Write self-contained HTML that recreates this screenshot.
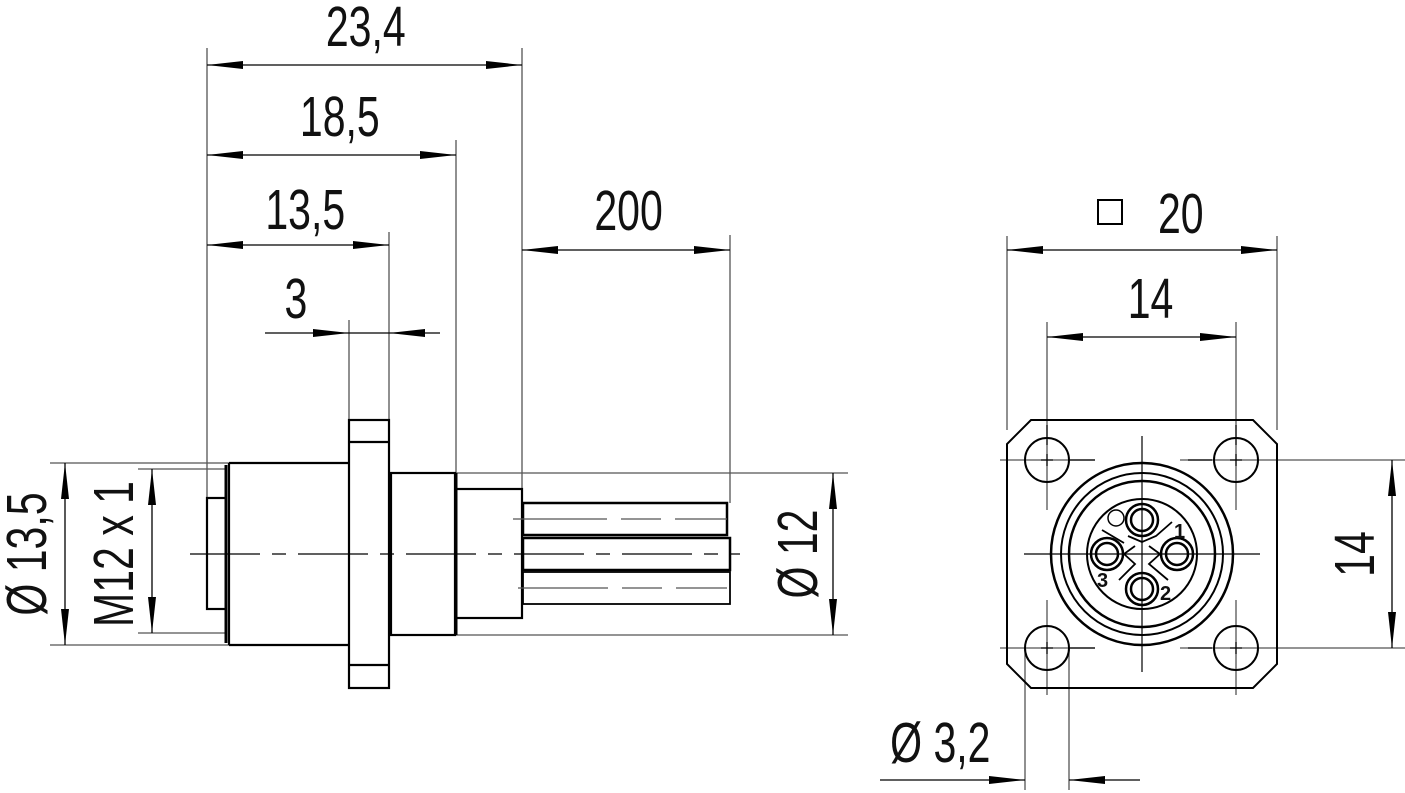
<!DOCTYPE html>
<html><head><meta charset="utf-8"><style>
html,body{margin:0;padding:0;background:#fff;}
svg{display:block;}
text{font-family:"Liberation Sans",sans-serif;font-size:57px;fill:#111;}
</style></head><body>
<svg width="1405" height="793" viewBox="0 0 1405 793" xmlns="http://www.w3.org/2000/svg">
<defs>
<marker id="a" viewBox="0 0 36 10" refX="36" refY="5" markerWidth="36" markerHeight="10" markerUnits="userSpaceOnUse" orient="auto-start-reverse">
<path d="M0,1 L36,5 L0,9 Z" fill="#000"/></marker>
</defs>
<g stroke="#555" stroke-width="1.3" fill="none">
<line x1="207" y1="48" x2="207" y2="498"/>
<line x1="522" y1="48" x2="522" y2="489"/>
<line x1="456" y1="140" x2="456" y2="473"/>
<line x1="389" y1="232" x2="389" y2="420"/>
<line x1="349" y1="320" x2="349" y2="420"/>
<line x1="730" y1="235" x2="730" y2="503"/>
<line x1="50" y1="463" x2="229" y2="463"/>
<line x1="50" y1="645" x2="229" y2="645"/>
<line x1="138" y1="469" x2="226" y2="469"/>
<line x1="138" y1="633" x2="226" y2="633"/>
<line x1="455" y1="473" x2="848" y2="473"/>
<line x1="455" y1="635" x2="848" y2="635"/>
<line x1="1007" y1="236" x2="1007" y2="430"/>
<line x1="1277" y1="236" x2="1277" y2="430"/>
<line x1="1047" y1="322" x2="1047" y2="510"/>
<line x1="1236" y1="322" x2="1236" y2="510"/>
<line x1="1180" y1="460" x2="1405" y2="460"/>
<line x1="1180" y1="648" x2="1405" y2="648"/>
<line x1="1025" y1="648" x2="1025" y2="790"/>
<line x1="1069" y1="648" x2="1069" y2="790"/>
<line x1="1000" y1="460" x2="1095" y2="460"/>
<line x1="1000" y1="648" x2="1095" y2="648"/>
<line x1="1047" y1="600" x2="1047" y2="695"/>
<line x1="1236" y1="600" x2="1236" y2="695"/>
</g>
<g stroke="#000" stroke-width="1.3" fill="none">
<line x1="207" y1="65" x2="522" y2="65" marker-start="url(#a)" marker-end="url(#a)"/>
<line x1="207" y1="155" x2="456" y2="155" marker-start="url(#a)" marker-end="url(#a)"/>
<line x1="207" y1="245" x2="389" y2="245" marker-start="url(#a)" marker-end="url(#a)"/>
<line x1="265" y1="333" x2="349" y2="333" marker-end="url(#a)"/>
<line x1="440" y1="333" x2="389" y2="333" marker-end="url(#a)"/>
<line x1="349" y1="333" x2="389" y2="333"/>
<line x1="522" y1="250" x2="730" y2="250" marker-start="url(#a)" marker-end="url(#a)"/>
<line x1="65" y1="463" x2="65" y2="645" marker-start="url(#a)" marker-end="url(#a)"/>
<line x1="152" y1="469" x2="152" y2="633" marker-start="url(#a)" marker-end="url(#a)"/>
<line x1="833" y1="473" x2="833" y2="635" marker-start="url(#a)" marker-end="url(#a)"/>
<line x1="1007" y1="250" x2="1277" y2="250" marker-start="url(#a)" marker-end="url(#a)"/>
<line x1="1047" y1="337" x2="1236" y2="337" marker-start="url(#a)" marker-end="url(#a)"/>
<line x1="1392" y1="460" x2="1392" y2="648" marker-start="url(#a)" marker-end="url(#a)"/>
<line x1="880" y1="780" x2="1025" y2="780" marker-end="url(#a)"/>
<line x1="1140" y1="780" x2="1069" y2="780" marker-end="url(#a)"/>
</g>
<g stroke="#000" stroke-width="2.2" fill="none">
<rect x="207" y="498" width="19" height="111"/>
<path d="M229,463 H349 M229,645 H349 M229,463 V645"/>
<line x1="226" y1="465" x2="226" y2="643" stroke-width="3"/>
<rect x="349" y="420" width="40" height="268"/>
<line x1="349" y1="442" x2="389" y2="442"/>
<line x1="349" y1="665" x2="389" y2="665"/>
<rect x="391" y="473" width="64" height="162"/>
<rect x="456" y="489" width="66" height="129"/>
<line x1="456" y1="473" x2="456" y2="635" stroke-width="3"/>
<rect x="523" y="503" width="204" height="32" stroke-width="2.5"/>
<rect x="523" y="538" width="207" height="32" stroke-width="2.5"/>
<rect x="523" y="572" width="207" height="32" stroke-width="1.8"/>
</g>
<g stroke="#000" stroke-width="1.3" fill="none">
<line x1="190" y1="554" x2="740" y2="554" stroke-dasharray="70,12,14,12"/>
<line x1="513" y1="519" x2="727" y2="519" stroke-dasharray="94,14,40,14" stroke="#555"/>
<line x1="518" y1="588" x2="727" y2="588" stroke-dasharray="90,14,40,14" stroke="#555"/>
</g>
<g stroke="#000" stroke-width="2" fill="none">
<path d="M1031,420 H1253 L1277,444 V664 L1253,688 H1031 L1007,664 V444 Z"/>
<circle cx="1047" cy="460" r="22"/><circle cx="1236" cy="460" r="22"/>
<circle cx="1047" cy="648" r="22"/><circle cx="1236" cy="648" r="22"/>
<circle cx="1142" cy="554" r="91" stroke-width="2.5"/>
<circle cx="1142" cy="554" r="81"/>
<circle cx="1142" cy="554" r="73" stroke-width="2.5"/>
<circle cx="1142" cy="554" r="55"/>
<g stroke-width="2.5">
<circle cx="1142" cy="520" r="16"/><circle cx="1142" cy="520" r="11"/>
<circle cx="1107" cy="554" r="16"/><circle cx="1107" cy="554" r="11"/>
<circle cx="1177" cy="554" r="16"/><circle cx="1177" cy="554" r="11"/>
<circle cx="1142" cy="589" r="16"/><circle cx="1142" cy="589" r="11"/>
</g>
<path d="M1128,536 L1142,542 L1156,536 L1172,522 M1124,543 L1102,530 M1124,554 L1135,546 M1160,554 L1149,546 M1124,554 L1135,564 L1119,580 M1160,554 L1149,564 L1168,580" stroke-width="1.8"/>
<circle cx="1116" cy="518" r="8" stroke-width="1.5"/>
</g>
<g stroke="#000" stroke-width="1.2">
<line x1="1142" y1="436" x2="1142" y2="672"/>
<line x1="1024" y1="554" x2="1260" y2="554"/>
<line x1="1041" y1="460" x2="1053" y2="460"/><line x1="1047" y1="454" x2="1047" y2="466"/>
<line x1="1230" y1="460" x2="1242" y2="460"/><line x1="1236" y1="454" x2="1236" y2="466"/>
<line x1="1041" y1="648" x2="1053" y2="648"/><line x1="1047" y1="642" x2="1047" y2="654"/>
<line x1="1230" y1="648" x2="1242" y2="648"/><line x1="1236" y1="642" x2="1236" y2="654"/>
<line x1="1047" y1="425" x2="1047" y2="445"/><line x1="1236" y1="425" x2="1236" y2="445"/>
<line x1="1070" y1="460" x2="1095" y2="460"/><line x1="1188" y1="460" x2="1212" y2="460"/>
<line x1="1070" y1="648" x2="1095" y2="648"/><line x1="1188" y1="648" x2="1212" y2="648"/>
</g>
<text x="1097" y="587" style="font-size:20px;font-weight:bold">3</text>
<text x="1160" y="600" style="font-size:20px;font-weight:bold">2</text>
<text x="1174" y="538" style="font-size:20px;font-weight:bold">1</text>
<rect x="1098" y="200" width="24" height="24" fill="none" stroke="#000" stroke-width="2"/>
<g transform="scale(0.72,1)">
<text x="508" y="46" text-anchor="middle">23,4</text>
<text x="472" y="136" text-anchor="middle">18,5</text>
<text x="424" y="229" text-anchor="middle">13,5</text>
<text x="411" y="318" text-anchor="middle">3</text>
<text x="873" y="230" text-anchor="middle">200</text>
<text x="1640" y="233" text-anchor="middle">20</text>
<text x="1598" y="318" text-anchor="middle">14</text>
<text x="1306" y="762" text-anchor="middle">Ø 3,2</text>
</g>
<text transform="translate(46,554) rotate(-90) scale(0.72,1)" text-anchor="middle">Ø 13,5</text>
<text transform="translate(133,554) rotate(-90) scale(0.72,1)" text-anchor="middle">M12 x 1</text>
<text transform="translate(817,554) rotate(-90) scale(0.72,1)" text-anchor="middle">Ø 12</text>
<text transform="translate(1374,554) rotate(-90) scale(0.72,1)" text-anchor="middle">14</text>
</svg>
</body></html>
